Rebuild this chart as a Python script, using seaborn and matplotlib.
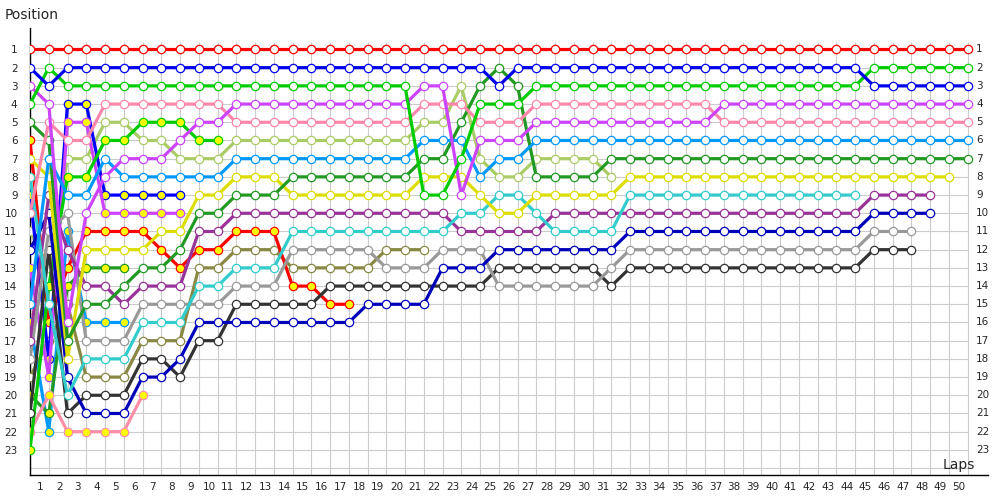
import numpy as np
import pandas as pd
import matplotlib
matplotlib.use("Agg")
import matplotlib.pyplot as plt
import seaborn as sns

# race positions per lap, index 0 = starting grid

red_a = [1, 1, 1, 1, 1, 1, 1, 1, 1, 1,
         1, 1, 1, 1, 1, 1, 1, 1, 1, 1,
         1, 1, 1, 1, 1, 1, 1, 1, 1, 1,
         1, 1, 1, 1, 1, 1, 1, 1, 1, 1,
         1, 1, 1, 1, 1, 1, 1, 1, 1, 1, 1]
blue_a = [2, 3, 2, 2, 2, 2, 2, 2, 2, 2,
          2, 2, 2, 2, 2, 2, 2, 2, 2, 2,
          2, 2, 2, 2, 2, 3, 2, 2, 2, 2,
          2, 2, 2, 2, 2, 2, 2, 2, 2, 2,
          2, 2, 2, 2, 2, 3, 3, 3, 3, 3, 3]
green_a = [4, 2, 3, 3, 3, 3, 3, 3, 3, 3,
           3, 3, 3, 3, 3, 3, 3, 3, 3, 3,
           3, 9, 9, 7, 4, 4, 4, 3, 3, 3,
           3, 3, 3, 3, 3, 3, 3, 3, 3, 3,
           3, 3, 3, 3, 3, 2, 2, 2, 2, 2, 2]
magenta_a = [3, 4, 16, 10, 8, 7, 7, 7, 6, 5,
             5, 4, 4, 4, 4, 4, 4, 4, 4, 4,
             4, 3, 3, 9, 6, 6, 6, 5, 5, 5,
             5, 5, 5, 5, 5, 5, 5, 4, 4, 4,
             4, 4, 4, 4, 4, 4, 4, 4, 4, 4, 4]
pink_a = [10, 5, 6, 6, 4, 4, 4, 4, 4, 4,
          4, 5, 5, 5, 5, 5, 5, 5, 5, 5,
          5, 4, 4, 4, 5, 5, 5, 4, 4, 4,
          4, 4, 4, 4, 4, 4, 4, 5, 5, 5,
          5, 5, 5, 5, 5, 5, 5, 5, 5, 5, 5]
sky_a = [15, 7, 9, 9, 7, 8, 8, 8, 8, 8,
         8, 7, 7, 7, 7, 7, 7, 7, 7, 7,
         7, 6, 6, 6, 8, 7, 7, 6, 6, 6,
         6, 6, 6, 6, 6, 6, 6, 6, 6, 6,
         6, 6, 6, 6, 6, 6, 6, 6, 6, 6, 6]
dkgreen_a = [5, 6, 17, 15, 15, 14, 13, 13, 12, 10,
             10, 9, 9, 9, 8, 8, 8, 8, 8, 8,
             8, 7, 7, 5, 3, 2, 3, 8, 8, 8,
             8, 7, 7, 7, 7, 7, 7, 7, 7, 7,
             7, 7, 7, 7, 7, 7, 7, 7, 7, 7, 7]
yellow_a = [7, 8, 18, 12, 12, 12, 12, 11, 11, 9,
            9, 8, 8, 8, 9, 9, 9, 9, 9, 9,
            9, 8, 8, 8, 9, 10, 10, 9, 9, 9,
            9, 9, 8, 8, 8, 8, 8, 8, 8, 8,
            8, 8, 8, 8, 8, 8, 8, 8, 8, 8]
cyan_a = [8, 15, 20, 18, 18, 18, 16, 16, 16, 14,
          14, 13, 13, 13, 11, 11, 11, 11, 11, 11,
          11, 11, 11, 10, 10, 9, 9, 10, 11, 11,
          11, 11, 9, 9, 9, 9, 9, 9, 9, 9,
          9, 9, 9, 9, 9]
purple_a = [17, 9, 12, 14, 14, 15, 14, 14, 14, 11,
            11, 10, 10, 10, 10, 10, 10, 10, 10, 10,
            10, 10, 10, 11, 11, 11, 11, 11, 10, 10,
            10, 10, 10, 10, 10, 10, 10, 10, 10, 10,
            10, 10, 10, 10, 10, 9, 9, 9, 9]
navy_a = [12, 10, 19, 21, 21, 21, 19, 19, 18, 16,
          16, 16, 16, 16, 16, 16, 16, 16, 15, 15,
          15, 15, 13, 13, 13, 12, 12, 12, 12, 12,
          12, 12, 11, 11, 11, 11, 11, 11, 11, 11,
          11, 11, 11, 11, 11, 10, 10, 10, 10]
gray_a = [18, 11, 10, 17, 17, 17, 15, 15, 15, 15,
          15, 14, 14, 14, 12, 12, 12, 12, 12, 13,
          13, 13, 12, 12, 12, 14, 14, 14, 14, 14,
          14, 13, 12, 12, 12, 12, 12, 12, 12, 12,
          12, 12, 12, 12, 12, 11, 11, 11]
black_a = [21, 12, 21, 20, 20, 20, 18, 18, 19, 17,
           17, 15, 15, 15, 15, 15, 14, 14, 14, 14,
           14, 14, 14, 14, 14, 13, 13, 13, 13, 13,
           13, 14, 13, 13, 13, 13, 13, 13, 13, 13,
           13, 13, 13, 13, 13, 12, 12, 12]
lime_a = [11, 13, 7, 7, 5, 5, 6, 6, 7, 7,
          7, 6, 6, 6, 6, 6, 6, 6, 6, 6,
          6, 5, 5, 3, 7, 8, 8, 7, 7, 7,
          7, 8]
olive_a = [19, 17, 15, 19, 19, 19, 17, 17, 17, 13,
           13, 12, 12, 12, 13, 13, 13, 13, 13, 12,
           12, 12]
red_b = [6, 16, 13, 11, 11, 11, 11, 12, 13, 12,
         12, 11, 11, 11, 14, 14, 15, 15]
blue_b = [9, 18, 4, 4, 9, 9, 9, 9, 9]
magenta_b = [13, 19, 5, 5, 10, 10, 10, 10, 10]
sky_b = [16, 22, 11, 16, 16, 16]
dkgreen_b = [20, 21, 14, 13, 13, 13]
pink_b = [22, 20, 22, 22, 22, 22, 20]
green_b = [23, 14, 8, 8, 6, 6, 5, 5, 5, 6, 6]

# name, positions, line colour, marker fill
drivers = [
    ("olive_a", olive_a, "#888844", "white"),
    ("lime_a", lime_a, "#aacc66", "white"),
    ("red_b", red_b, "#ff0000", "#ffff00"),
    ("blue_b", blue_b, "#0000ff", "#ffff00"),
    ("magenta_b", magenta_b, "#cc44ff", "#ffff00"),
    ("sky_b", sky_b, "#0099ff", "#ffff00"),
    ("dkgreen_b", dkgreen_b, "#229922", "#ffff00"),
    ("pink_b", pink_b, "#ff8fa8", "#ffff00"),
    ("green_b", green_b, "#00cc00", "#ffff00"),
    ("black_a", black_a, "#333333", "white"),
    ("gray_a", gray_a, "#999999", "white"),
    ("navy_a", navy_a, "#0000bb", "white"),
    ("purple_a", purple_a, "#993399", "white"),
    ("cyan_a", cyan_a, "#33cccc", "white"),
    ("yellow_a", yellow_a, "#dddd00", "white"),
    ("dkgreen_a", dkgreen_a, "#229922", "white"),
    ("sky_a", sky_a, "#0099ff", "white"),
    ("pink_a", pink_a, "#ff88aa", "white"),
    ("magenta_a", magenta_a, "#cc44ff", "white"),
    ("green_a", green_a, "#00cc00", "white"),
    ("blue_a", blue_a, "#0000ee", "white"),
    ("red_a", red_a, "#ff0000", "white"),
]

lap_labels = list(range(1, 51))
pos_labels = list(range(1, 24))
grid_rows = list(range(1, 25))
grid_cols = list(range(0, 51))

rows = []
for name, pos, col, fc in drivers:
    for lap, p in enumerate(pos):
        rows.append({"driver": name, "lap": lap, "pos": p})
df = pd.DataFrame(rows)

sns.set_style("white")
plt.rcParams["font.family"] = ["DejaVu Sans"]

fig = plt.figure(figsize=(10, 5), dpi=100)
ax = fig.add_axes([0.03, 0.05, 0.958, 0.894])
ax.set_xlim(0, 51.09)
ax.set_ylim(24.38, -0.18)

ax.hlines(grid_rows, 0, 50, color="#cccccc", lw=0.8, zorder=0)
ax.vlines(grid_cols, 0.6, 24.38, color="#cccccc", lw=0.8, zorder=0)

for name, pos, col, fc in drivers:
    sns.lineplot(data=df[df.driver == name], x="lap", y="pos", ax=ax,
                 color=col, lw=2.3, marker="o", markersize=6.0,
                 markerfacecolor=fc, markeredgecolor=col, markeredgewidth=0.9,
                 legend=False, zorder=3)

ax.set_xticks([k - 0.45 for k in lap_labels])
ax.set_xticklabels([str(k) for k in lap_labels], fontsize=7.5)
ax.set_yticks(pos_labels)
ax.set_yticklabels([str(k) for k in pos_labels], fontsize=7.5)
ax.tick_params(axis="both", length=0)
ax.tick_params(axis="y", pad=9)
ax.tick_params(axis="x", pad=5)
for p in pos_labels:
    ax.text(50.45, p, str(p), fontsize=7.5, va="center", ha="left")

ax.set_xlabel("")
ax.set_ylabel("")
for s in ["top", "right"]:
    ax.spines[s].set_visible(False)
for s in ["left", "bottom"]:
    ax.spines[s].set_color("black")
    ax.spines[s].set_linewidth(1.0)

fig.text(0.005, 0.97, "Position", fontsize=10, va="center", ha="left")
fig.text(0.943, 0.07, "Laps", fontsize=10, va="center", ha="left")

fig.savefig("out.png", dpi=100, facecolor="white")
